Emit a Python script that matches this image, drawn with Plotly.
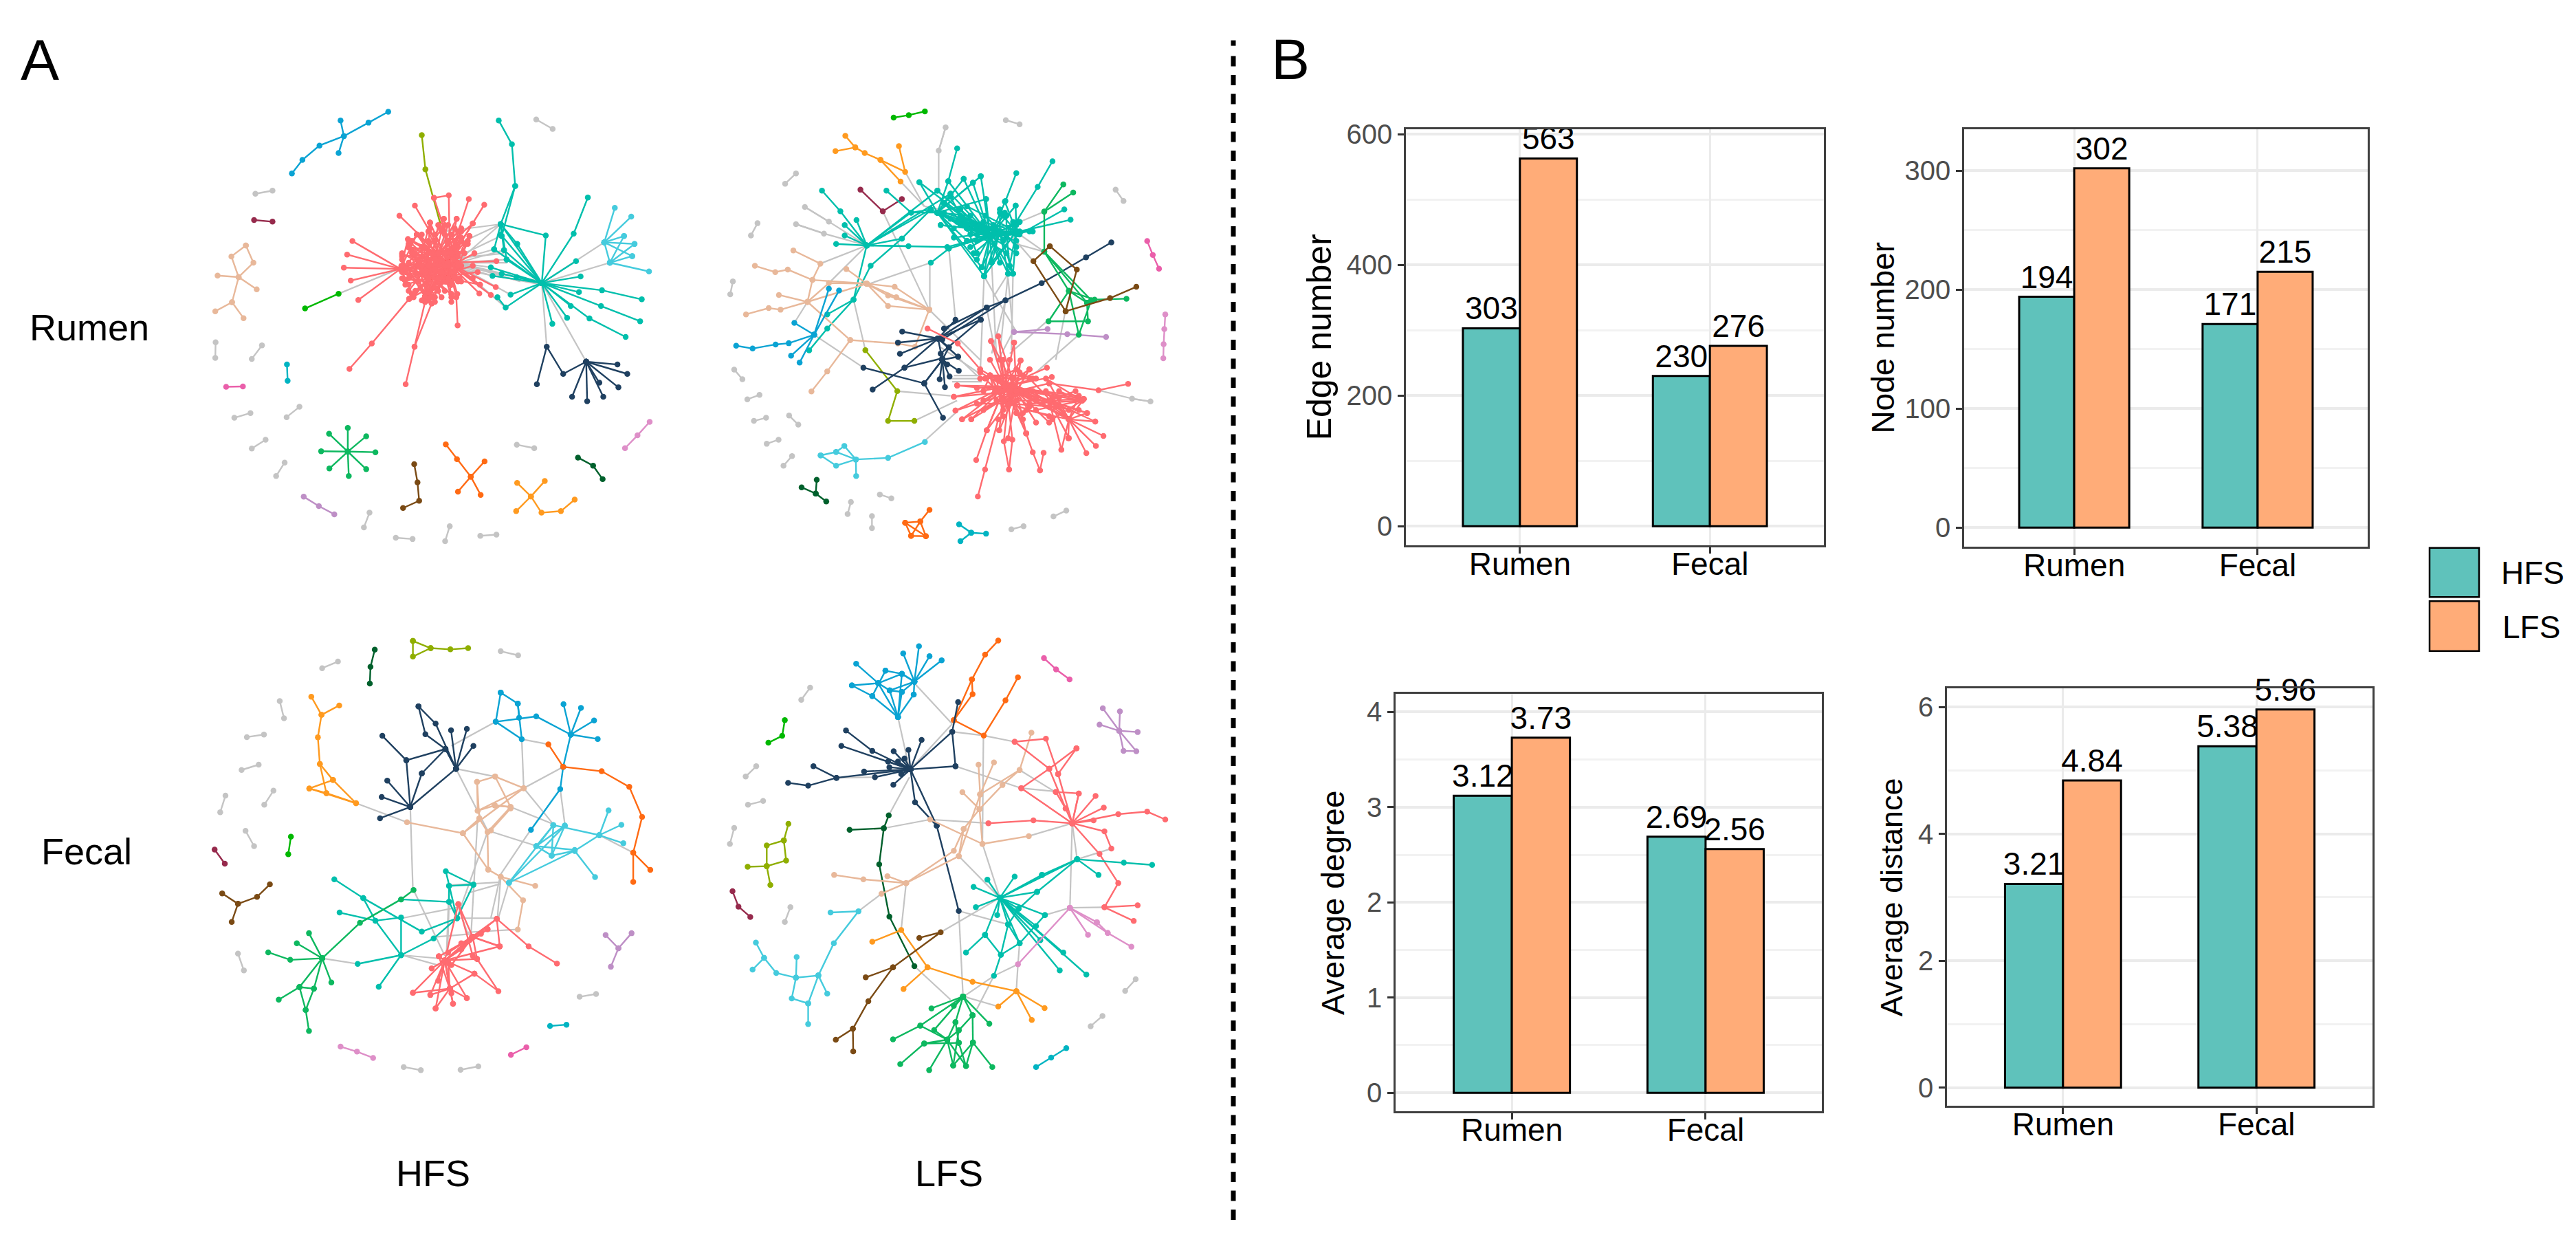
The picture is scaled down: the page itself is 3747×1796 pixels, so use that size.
import plotly.graph_objects as go

W, H = 3747, 1796

# ---------- bar chart values ----------
CATEGORIES = ["Rumen", "Fecal"]
GROUPS = ["HFS", "LFS"]
EDGE_HFS = [303, 230]
EDGE_LFS = [563, 276]
NODE_HFS = [194, 171]
NODE_LFS = [302, 215]
DEGREE_HFS = [3.12, 2.69]
DEGREE_LFS = [3.73, 2.56]
DISTANCE_HFS = [3.21, 5.38]
DISTANCE_LFS = [4.84, 5.96]
EDGE_TICKS = [0, 200, 400, 600]
NODE_TICKS = [0, 100, 200, 300]
DEGREE_TICKS = [0, 1, 2, 3, 4]
DISTANCE_TICKS = [0, 2, 4, 6]

COL = dict(red="#FF6B70", teal="#00BFAC", navy="#1F4060", peach="#E8B89A", blue="#0AA3D3", cyan="#45CBDD",
           emerald="#0DB85F", orange="#FF6A13", amber="#FF9A1F", lime="#8FAE00", brown="#7A4A14", dkgreen="#00602C",
           maroon="#962A4C", pink="#EA5FAA", mauve="#BE8FC6", lpink="#DE8FC8", gray="#C4C4C4", bgreen="#00B800",
           tblue="#00B4C2")

# ---------- network layouts: node positions (grid 0-1568 per panel) ----------
RH_LINKS = [
    [(507,689),(690,610)], [(1125,655),(1140,858)], [(1125,655),(1260,906)], [(1125,655),(1315,525)], [(1125,655),(1332,590)],
    [(870,585),(1000,467)], [(870,570),(1000,505)], [(870,580),(980,547)], [(870,590),(1010,550)], [(870,590),(1018,580)],
    [(870,590),(970,605)], [(870,600),(975,632)], [(870,595),(1003,625)], [(870,590),(1125,655)], [(875,600),(1125,650)],
    [(870,610),(1125,660)], [(880,610),(1015,733)], [(830,490),(1000,467)], [(870,530),(1000,467)], [(870,600),(1030,692)],
    [(870,595),(1048,636)], [(875,575),(1010,560)], [(875,590),(1020,590)], [(880,595),(1060,650)], [(830,530),(822,487)],
]
RH_CHAINS = {
    "blue": [[(365,305),(397,262),(449,216),(523,186),(598,143),(658,108)], [(513,136),(523,186),(507,240)]],
    "gray": [[(1108,133),(1158,163)], [(254,370),(306,360)], [(133,844),(132,894)], [(274,854),(243,897)], [(239,1070),(190,1085)],
             [(388,1050),(349,1083)], [(285,1155),(243,1183)], [(343,1228),(317,1271)], [(601,1388),(584,1435)], [(681,1468),(732,1472)],
             [(845,1431),(831,1479)], [(938,1462),(987,1458)], [(1049,1171),(1102,1182)]],
    "maroon": [[(250,454),(306,459)]],
    "peach": [[(225,535),(181,570),(203,636),(183,716),(132,745)], [(225,535),(248,590),(203,636)], [(139,631),(203,636),(258,675)], [(183,716),(218,767)]],
    "tblue": [[(350,915),(352,967)]],
    "pink": [[(165,986),(216,985)]],
    "lime": [[(760,183),(771,292),(822,487)]],
    "bgreen": [[(405,736),(507,689)]],
    "brown": [[(737,1233),(747,1291),(752,1350),(703,1373)]],
    "orange": [[(833,1170),(867,1217),(909,1273),(951,1224)], [(870,1321),(909,1273),(939,1331)]],
    "amber": [[(1050,1293),(1092,1336),(1134,1287)], [(1047,1383),(1092,1336),(1124,1388),(1183,1383),(1225,1346)]],
    "mauve": [[(401,1337),(447,1367),(494,1393)]],
    "lpink": [[(1453,1098),(1416,1141),(1378,1182)]],
    "dkgreen": [[(1235,1212),(1281,1238),(1310,1281)]],
    "navy": [[(1110,978),(1140,858),(1190,945),(1260,906)]],
    "teal": [[(994,136),(1034,212),(1044,345),(1000,467),(1137,503),(1125,655)], [(1044,345),(1003,505)], [(1125,655),(1222,497),(1265,382)],
             [(1125,655),(1308,678),(1429,707)], [(1125,655),(1305,728),(1424,777)], [(1125,655),(1270,768),(1380,827)], [(1125,655),(1015,733),(990,700)]],
    "red": [[(797,383),(842,375),(845,560)], [(797,383),(840,520)], [(567,709),(695,610)], [(540,929),(608,848),(722,705),(840,590)], [(711,978),(738,858),(770,715),(840,590)],
            [(738,858),(790,720)], [(869,790),(865,700),(840,590)]],
}
RH_FANS = {
    "emerald": [((535,1193), [(535,1117),(591,1144),(619,1195),(591,1249),(538,1271),(479,1247),(454,1192),(478,1136)])],
    "navy": [((1260,906), [(1355,915),(1385,945),(1300,973),(1358,988),(1312,1018),(1263,1032),(1217,1018)])],
    "cyan": [((1315,525), [(1347,415),(1397,443),(1375,505),(1407,530),(1400,569),(1332,590)]), ((1332,590), [(1375,505),(1407,530),(1400,569),(1451,618)])],
    "teal": [((1125,655), [(1229,585),(1243,634),(1238,684),(1213,728),(1202,766),(1157,785),(1030,692),(1048,636),(1003,625),(975,632),(970,605),
                           (1050,530),(1018,580),(1010,550),(1000,500),(1000,467),(980,547)]),
             ((1000,467), [(1050,530),(1018,580),(1010,550),(980,547),(1003,505)])],
    "red": [((840,590), [(903,387),(950,405),(739,408),(692,440),(785,462),(827,450),(866,450),(915,465),(878,490),(745,500),(718,515),(905,505),(700,565),(698,600),
                         (708,645),(722,705),(770,715),(790,720),(850,715),(868,690),(935,688),(970,693),(985,668),(987,585),(937,660),(915,640),(760,540),(780,600),(730,560),(720,640),(740,680),(810,680),(800,500),(860,520)]),
            ((695,610), [(549,521),(533,564),(523,606),(544,647),(830,560),(840,600),(810,640),(780,690),(770,540),(745,500),(718,515),(720,660),(850,640),(800,610),(860,580),(790,560),(750,650),(730,690),(800,670)]),
            ((770,700), [(870,560),(840,530),(800,520),(720,540),(700,580),(860,620),(830,600),(880,510),(860,480),(780,560),(740,620),(900,530),(820,490),(785,462)]),
            ((720,540), [(870,600),(860,640),(830,680),(850,560),(800,700),(870,570),(790,640),(760,610),(820,620),(745,500)]),
            ((850,660), [(720,590),(780,520),(830,500),(870,490),(905,505),(760,600),(740,560),(710,620),(800,580),(700,640)]),
            ((780,640), [(870,540),(850,500),(810,470),(760,500),(720,530),(700,600),(710,660),(735,700),(790,700),(850,690),(875,640),(870,590),(915,600),(930,620),(920,560)]),
            ((810,560), [(700,620),(720,680),(760,710),(800,715),(850,700),(880,650),(890,560),(900,520),(880,480),(840,470),(780,490),(730,520),(700,570),(915,465),(866,450)]),
            ((750,600), [(880,600),(870,650),(850,690),(820,700),(780,710),(860,540),(880,520),(820,480),(785,462),(827,450)]),
            ((840,640), [(700,560),(710,610),(720,520),(745,500),(785,480),(830,470),(880,490),(890,530),(770,715),(722,705),(708,645),(937,660)])],
}

RL_LINKS = [
    [(662,300),(720,410)], [(648,331),(720,410)], [(594,426),(735,740)], [(325,782),(365,715)], [(385,820),(535,925)], [(545,535),(404,593)], [(545,535),(430,655)],
    [(357,412),(430,459),(545,535)], [(330,467),(415,497),(545,535)], [(505,708),(541,869)], [(638,1000),(800,1015)], [(690,1095),(820,1030)], [(890,950),(902,633)],
    [(940,900),(925,590)], [(950,880),(975,625)], [(985,870),(990,625)], [(1060,940),(1190,820)], [(880,950),(762,832)], [(890,945),(770,860)], [(720,1160),(820,1065)],
    [(800,960),(890,960)], [(810,950),(890,950)], [(805,970),(895,970)], [(990,810),(950,890)], [(1150,740),(1120,900)], [(1095,775),(980,880)], [(1085,427),(1010,460)],
    [(1085,555),(1010,500)], [(1052,585),(990,510)], [(785,158),(764,232),(764,360)], [(1250,997),(1352,1024),(1408,1033)], [(735,740),(890,900)], [(737,590),(737,740)],
    [(795,545),(815,772)], [(545,660),(740,590)], [(910,735),(940,900)], [(967,710),(925,880)], [(1000,530),(1085,555)], [(720,410),(770,420)], [(975,625),(930,700)], [(902,633),(960,740)],
    [(960,740),(1000,810)], [(975,640),(990,810)],
]
RL_CHAINS = {
    "bgreen": [[(627,127),(673,119),(722,107)]],
    "gray": [[(968,135),(1010,148)], [(330,305),(297,338)], [(1302,357),(1326,393)], [(213,464),(193,503)], [(138,650),(130,691)], [(142,931),(167,962)], [(219,1012),(182,1026)],
             [(239,1085),(202,1095)], [(309,1078),(337,1107)], [(277,1155),(241,1168)], [(318,1207),(292,1238)], [(585,1330),(620,1342)], [(497,1354),(487,1392)], [(561,1399),(561,1437)],
             [(1152,1381),(1113,1400)], [(1022,1431),(985,1441)], [(1352,1024),(1408,1033)], [(785,158),(764,232)], [(357,412),(430,459)], [(330,467),(415,497)]],
    "amber": [[(480,185),(510,222),(539,240),(587,262),(662,300),(643,218)], [(450,234),(510,222)], [(587,262),(648,331)]],
    "maroon": [[(526,357),(594,426),(652,387)]],
    "teal": [[(409,360),(465,426),(545,535)], [(370,870),(425,800),(505,708),(557,600),(652,513),(740,420)], [(545,535),(505,708),(425,755)], [(605,360),(680,430),(760,430)], [(1000,304),(967,393),(920,505)],
             [(1110,266),(1065,348),(970,510)], [(545,535),(790,540),(920,505)], [(820,225),(793,330),(760,430)], [(545,535),(680,430),(740,420)], [(740,590),(795,545),(920,505)], [(1165,453),(1010,490)], [(1146,420),(1010,500)]],
    "peach": [[(322,551),(404,593),(380,645),(365,715)], [(205,600),(267,620),(305,612),(380,645),(545,657)], [(365,715),(495,837),(640,848),(692,858),(735,740)], [(495,837),(425,937),(377,1001)],
              [(178,755),(247,735),(283,740),(365,715)], [(278,693),(365,715)], [(365,715),(430,655),(545,657)], [(365,715),(545,657)], [(483,610),(545,657)], [(735,740),(630,667),(545,657),(610,728),(735,740)], [(545,657),(610,695),(735,740)], [(545,657),(635,700),(735,740)]],
    "blue": [[(148,855),(198,864),(268,851),(308,847),(385,820)]],
    "lime": [[(541,869),(638,1000),(610,1095),(690,1095)]],
    "navy": [[(1289,525),(1212,573),(1077,655),(967,710),(910,733),(762,832),(660,925),(563,995)], [(535,925),(720,975),(777,1085)], [(720,975),(775,900),(762,832)], [(660,925),(775,895)], [(967,710),(775,835)], [(910,733),(780,800)], [(892,772),(770,880)]],
    "red": [[(730,800),(822,848),(890,930)], [(1340,977),(1250,997),(1100,975)], [(883,1336),(905,1250),(945,1090)], [(878,1220),(910,1125),(960,1000)], [(978,1250),(962,1160),(975,1030)], [(978,1250),(988,1155),(975,1030)],
            [(1072,1253),(1050,1195),(1030,1135),(980,1000)], [(1083,1197),(1072,1253)]],
    "cyan": [[(405,1205),(452,1194),(512,1218),(477,1175),(452,1194)], [(405,1205),(452,1238),(512,1218),(610,1213),(722,1162)], [(512,1218),(513,1271)]],
    "dkgreen": [[(393,1283),(390,1327),(347,1307)], [(390,1327),(422,1352)]],
    "orange": [[(736,1379),(708,1416),(662,1420),(680,1462),(725,1463),(708,1416),(680,1462)], [(662,1420),(725,1463)]],
    "tblue": [[(826,1425),(863,1452),(908,1455)], [(863,1452),(830,1479)]],
    "pink": [[(1398,521),(1415,565),(1434,609)]],
    "lpink": [[(1453,755),(1450,802),(1448,850),(1447,895)]],
    "mauve": [[(993,811),(1095,802)], [(993,811),(1155,818),(1273,827)]],
    "emerald": [[(1143,340),(1085,427),(1085,555),(1160,680),(1215,718),(1218,777),(1098,777),(1160,680),(1190,820),(1228,710)], [(1173,366),(1085,427)], [(1160,680),(1238,708),(1335,705)], [(1085,555),(1215,718)], [(1085,555),(1228,710)]],
    "brown": [[(1365,667),(1285,703),(1150,745),(1052,585),(1102,537),(1184,612),(1150,745)]],
}
RL_FANS = {
    "teal": [((545,535), [(478,470),(514,454),(478,503),(452,530),(672,537),(740,420),(800,370),(760,360),(652,513)]),
             ((920,505), [(705,333),(793,330),(840,322),(868,335),(892,314),(908,387),(998,408),(1010,460),(902,633),(975,625),(990,625),(925,590),(895,605),(760,430),(800,370),(760,360),(830,420),(850,470),(1000,500),(1040,490),(960,440),(780,400),(860,540),(880,580),(950,590),(1000,560),(965,430),(835,450)]),
             ((760,430), [(705,333),(840,322),(868,335),(892,314),(908,387),(850,520),(880,500),(830,470),(800,370),(902,633),(860,440),(810,480),(895,605)]),
             ((1000,490), [(850,410),(900,460),(880,520),(975,625),(990,625),(925,590),(950,430),(998,408),(965,395),(902,633)]),
             ((950,490), [(830,440),(800,450),(770,470),(810,510),(850,520),(870,560),(895,605),(902,633),(925,590),(975,625),(990,625),(1010,460),(1000,500),(1050,490),(950,420),(905,440),(780,430)]),
             ((850,480), [(740,420),(770,470),(800,380),(780,400),(900,460),(1000,470),(960,520),(970,560),(1000,520),(880,560)]),
             ((970,500), [(760,430),(820,460),(860,500),(905,510),(930,470),(970,440),(990,460),(1000,540),(980,600)])],
    "blue": [((385,820), [(325,782),(315,887),(341,909),(430,673),(461,679)])],
    "navy": [((762,832), [(653,810),(640,845),(646,881),(815,772),(892,772),(795,860),(823,890)]), ((775,900), [(767,962),(783,987),(797,953),(825,935),(790,915),(720,975),(795,860),(823,890)])],
    "red": [((965,985), [(863,1090),(835,1090),(815,1062),(810,1018),(820,982),(923,840),(945,825),(993,845),(1013,902),(1040,930),(1093,925),(1108,955),(948,1125),(910,1125),(1160,1090),(1205,1025),(1190,1015),(1215,1070),
                         (1100,1050),(1050,1000),(890,940),(920,900),(1040,1050),(900,1030),(880,990),(1000,1070),(960,1060),(1060,960),(1130,1020),(1020,1090),(1030,1135),(950,900),(980,900)]),
            ((1160,1090), [(1137,1187),(1158,1150),(1213,1198),(1242,1175),(1265,1143),(1240,1097),(1205,1025),(1190,1015),(1215,1070),(1100,975),(1050,1000),(1030,1060),(1080,1040),(1110,1020),(1130,1050),(1040,960),(1000,1000),(1090,1000)]),
            ((920,950), [(1000,1010),(1040,1000),(960,1030),(990,960),(940,1030),(1020,950),(975,1050),(1060,1030),(900,1000),(890,960)]),
            ((1200,1030), [(1030,1000),(1060,1060),(1110,1090),(1090,960),(1130,1000),(1040,1040)]),
            ((980,1040), [(905,960),(960,900),(1010,940),(1040,930),(935,1000),(880,1040),(1100,1080),(1120,1050)]),
            ((1000,1000), [(815,1062),(810,1018),(820,982),(863,1090),(835,1090),(910,1125),(948,1125),(975,1150),(1030,1135),(1100,1100),(1160,1060),(1100,975),(1040,930),(1013,902),(993,845),(945,825),(923,840),(890,930),(900,1060),(1060,1100)]),
            ((940,960), [(1050,960),(1060,1020),(1020,1070),(960,1080),(1100,1030),(1000,930),(1030,1010)]),
            ((1100,1030), [(1205,1025),(1240,1097),(1215,1070),(1160,1150),(1137,1187),(1000,1030),(1180,1000),(1190,1060)])],
}

FH_LINKS = [
    [(1064,369),(1145,385)], [(1064,369),(1070,525)], [(1070,525),(1190,457)], [(850,390),(985,313)], [(864,463),(983,488)], [(864,463),(960,660)], [(725,585),(733,850)],
    [(560,573),(715,634)], [(1181,528),(1195,640)], [(1070,525),(1160,640)], [(1030,585),(1160,640)], [(960,660),(1110,710)], [(1300,675),(1403,731)], [(1090,660),(1000,800),(970,940)],
    [(960,665),(870,930)], [(930,620),(910,990)], [(1000,810),(990,940)], [(1025,827),(990,950)], [(1000,825),(840,835)], [(735,850),(830,1060)], [(870,940),(990,940)],
    [(800,1000),(910,990)], [(700,940),(870,905)], [(1050,976),(900,985)], [(700,1058),(830,1070)], [(700,1058),(810,1090)], [(565,1086),(457,1068)], [(843,888),(838,1060)],
    [(843,838),(835,1060)], [(1000,830),(900,860)], [(870,900),(900,990)],
]
FH_CHAINS = {
    "lime": [[(733,55),(787,78),(733,105),(733,55)], [(787,78),(847,82),(901,78)]],
    "dkgreen": [[(617,83),(604,138),(602,191)]],
    "gray": [[(505,121),(457,142)], [(1000,88),(1053,101)], [(328,247),(341,302)], [(280,354),(228,362)], [(264,450),(212,467)], [(163,549),(147,602)], [(309,533),(281,578)], [(224,661),(250,710)],
             [(201,1053),(219,1107)], [(1290,1182),(1240,1191)], [(705,1415),(757,1425)], [(932,1413),(878,1424)]],
    "amber": [[(424,233),(455,291),(509,261)], [(455,291),(444,363),(450,448),(490,499),(560,573),(470,541),(418,526),(490,499)], [(450,448),(470,541)], [(418,526),(560,573)]],
    "bgreen": [[(362,680),(354,736)]],
    "maroon": [[(130,721),(161,766)]],
    "brown": [[(153,861),(201,894),(259,872),(298,832)], [(201,894),(182,952)]],
    "mauve": [[(1319,994),(1358,1036),(1398,988)], [(1358,1036),(1335,1095)]],
    "tblue": [[(1150,1284),(1200,1280)]],
    "pink": [[(1031,1376),(1078,1352)]],
    "lpink": [[(513,1350),(563,1366),(612,1386)]],
    "navy": [[(750,264),(802,319),(864,463)], [(750,264),(771,353),(832,400),(864,463)], [(640,358),(713,436),(832,400)], [(760,478),(832,400)], [(713,436),(725,585)]],
    "blue": [[(1000,220),(1052,255),(1064,369),(985,313),(1000,220)], [(985,313),(1108,296),(1213,354),(1190,457)], [(1190,457),(1181,528),(1092,658)], [(1052,255),(1056,300)]],
    "orange": [[(1145,385),(1190,457),(1307,471),(1391,521),(1430,617),(1403,731),(1455,786)], [(1403,731),(1403,824)]],
    "peach": [[(715,634),(885,669),(935,622),(928,505),(983,488),(1070,525),(885,669)], [(928,505),(930,597),(982,580),(1030,585),(960,665),(935,622)], [(983,488),(1030,585),(982,580)], [(930,597),(1070,525)],
              [(885,669),(962,785),(1000,808),(1105,837)], [(960,665),(962,785)], [(1000,808),(1068,883),(1052,976)], [(1030,590),(970,660)]],
    "cyan": [[(1328,596),(1300,675),(1367,642)], [(1300,675),(1373,701)], [(1300,675),(1225,725),(1287,809)], [(1225,725),(1025,827)], [(1160,643),(1108,710),(1155,740),(1225,725)], [(1195,645),(1155,740)],
             [(1160,643),(1300,675)], [(1195,645),(1108,710),(1225,722)], [(1160,643),(1025,827)], [(1160,643),(1155,740)], [(1195,645),(1025,827)]],
    "teal": [[(494,816),(582,876),(619,948),(697,1058),(629,1159)], [(582,876),(760,983),(867,940)], [(510,922),(619,948),(697,938),(697,1058)], [(697,1058),(796,1005),(867,940),(833,790),(917,833),(867,940)],
             [(843,837),(917,833)], [(697,880),(843,888),(867,940)], [(843,837),(843,888)], [(565,1086),(697,1058)]],
    "emerald": [[(293,1049),(360,1073),(457,1068)], [(457,1068),(485,1145)], [(457,1068),(432,1165),(388,1160)], [(457,1068),(572,955),(697,880),(735,850)], [(457,1068),(388,1160),(325,1200)], [(388,1160),(407,1233),(417,1300)], [(432,1165),(407,1233)], [(417,988),(457,1068)], [(380,1020),(457,1068)]],
    "red": [[(830,1075),(912,1000),(988,942),(1085,1030),(1171,1085)], [(920,1117),(993,1173),(928,1070)], [(920,1117),(845,1165)], [(988,942),(997,1030),(915,1000),(871,895),(915,1060)]],
}
FH_FANS = {
    "navy": [((725,585), [(655,501),(638,553),(633,621),(760,478),(864,463)]), ((864,463), [(849,340),(897,336),(917,390),(832,400)])],
    "blue": [((1213,354), [(1191,257),(1244,269),(1284,309),(1295,368)])],
    "red": [((830,1075), [(733,1178),(786,1185),(802,1228),(855,1213),(897,1195),(845,1165),(790,1100),(812,1062),(920,1117),(928,1070),(915,1000),(960,975),(988,942),(997,1030),(871,895),(905,1010),(940,990),(880,1040),(850,1180),(810,1140)]),
            ((845,1165), [(812,1062),(802,1228),(897,1195),(855,1213),(786,1185),(733,1178),(840,1080)]),
            ((915,1000), [(812,1062),(840,1050),(880,1020),(997,1030),(960,975),(928,1070),(850,1090)])],
}

FL_LINKS = [
    [(690,190),(805,320)], [(640,298),(675,465)], [(1038,678),(1170,637)], [(897,703),(900,357)], [(900,357),(995,377)], [(897,703),(950,875)], [(825,742),(945,870)],
    [(597,653),(738,625),(915,637)], [(665,828),(650,975)], [(590,862),(520,918)], [(675,490),(612,612)], [(815,455),(1015,525),(1115,535)], [(1010,467),(1115,535)], [(1185,752),(1289,718)],
    [(1170,637),(1185,752)], [(1170,637),(1163,907)], [(1087,930),(1163,907),(1268,905)], [(825,917),(975,960)], [(825,917),(838,1190)], [(1005,1087),(1010,1020)], [(1005,1087),(932,1124),(840,1190)],
    [(1005,1087),(1000,1172)], [(690,1093),(800,1200)], [(840,1190),(945,1222)], [(770,985),(950,875)], [(805,345),(901,357)], [(678,465),(805,320)], [(880,1230),(932,1124)], [(453,492),(560,490)],
]
FL_CHAINS = {
    "blue": [[(513,128),(580,190),(640,298)], [(500,197),(562,231),(640,298)], [(602,150),(652,160),(690,185)], [(500,197),(580,190),(652,160)], [(615,213),(640,298)], [(652,218),(640,298)], [(688,226),(640,298)], [(580,190),(615,213),(652,218),(690,185)], [(562,231),(602,150)], [(652,160),(640,298)]],
    "orange": [[(945,54),(905,99),(865,178),(810,308),(901,357),(967,245),(1005,171)], [(865,178),(867,225),(810,308)]],
    "pink": [[(1084,110),(1121,146),(1162,178)]],
    "mauve": [[(1263,270),(1313,342),(1365,407),(1326,406),(1313,342)], [(1253,322),(1313,342),(1369,346)], [(1315,280),(1313,342)]],
    "bgreen": [[(296,308),(288,358),(246,380)]],
    "gray": [[(373,204),(346,243)], [(209,455),(177,488)], [(230,566),(184,578)], [(142,652),(129,703)], [(313,905),(296,952)], [(1363,1135),(1331,1172)], [(1262,1252),(1226,1285)]],
    "lime": [[(307,639),(293,692),(241,708),(241,774),(300,756),(293,692)], [(183,776),(241,774),(252,834)]],
    "maroon": [[(137,854),(155,903),(191,936)]],
    "tblue": [[(1152,1355),(1106,1385),(1060,1415)]],
    "navy": [[(306,508),(367,517),(453,492),(678,465)], [(383,455),(453,492)], [(805,345),(815,455)], [(678,465),(805,345),(823,250)], [(678,465),(692,570),(758,645),(825,917)], [(678,465),(758,645)], [(482,341),(562,406),(678,465)]],
    "dkgreen": [[(612,612),(597,653),(493,658)], [(597,653),(583,768),(614,935),(690,1093)]],
    "peach": [[(1046,348),(1010,467),(958,515),(888,592),(840,655),(810,725),(665,828),(535,816),(446,802)], [(885,450),(890,545),(888,592),(897,703),(1038,678)], [(932,443),(890,545)], [(836,538),(888,592)],
              [(1010,467),(890,545),(825,742),(665,828),(590,862)], [(608,806),(665,828)], [(738,625),(897,703)], [(840,655),(825,742)]],
    "red": [[(1015,525),(1170,637)], [(1120,537),(1150,590),(1170,637)], [(1120,537),(1190,542),(1170,637)], [(1170,637),(1310,608),(1398,600),(1453,625)], [(1170,637),(1052,628),(915,637)], [(1170,637),(1268,663),(1289,718)],
            [(1170,637),(1253,735),(1310,828),(1268,905),(1369,899)], [(1268,905),(1357,949)], [(995,377),(1090,367),(1127,480)], [(995,377),(1100,463),(1015,525)], [(1100,463),(1183,398)], [(1127,480),(1183,398)],
            [(1100,463),(1150,590)], [(1127,480),(1170,637)]],
    "teal": [[(1185,752),(1250,802)], [(1185,752),(1327,763),(1413,770)], [(1063,856),(1007,910),(975,960),(953,1057),(1010,1020),(975,960)], [(905,993),(953,1057),(932,1124)], [(847,1050),(905,993)], [(1087,930),(1010,1020)], [(1078,802),(1185,752)], [(1063,856),(1185,752)]],
    "lpink": [[(1163,907),(1218,993)], [(1245,953),(1278,987),(1350,1031)], [(1163,907),(1245,953)], [(1163,907),(1005,1087)], [(1163,907),(1278,987)]],
    "cyan": [[(435,922),(520,918),(445,1020),(398,1123),(330,1130),(270,1115),(233,1067),(208,1018)], [(233,1067),(198,1104)], [(330,1130),(332,1064)], [(330,1130),(317,1196),(367,1212),(398,1123)], [(367,1212),(367,1278)], [(398,1123),(425,1181)]],
    "amber": [[(562,1015),(650,978),(730,1097),(867,1143),(1000,1173),(1086,1227)], [(730,1097),(657,1166)], [(1000,1173),(945,1222)], [(1000,1173),(1047,1265)]],
    "brown": [[(705,1003),(770,985),(625,1097),(542,1129)], [(625,1097),(550,1205),(503,1293),(451,1328)], [(503,1293),(504,1365)]],
    "emerald": [[(708,1283),(790,1328)], [(625,1327),(708,1283),(838,1190)], [(790,1328),(735,1425)], [(790,1328),(808,1410),(868,1337),(847,1412),(790,1328)], [(868,1337),(927,1415)], [(825,1338),(847,1412)], [(867,1250),(868,1337)],
                [(838,1190),(815,1272),(825,1338)], [(838,1190),(750,1297),(790,1328)], [(867,1250),(825,1298),(808,1410)], [(720,1340),(825,1338)], [(790,1328),(720,1340),(647,1406)], [(815,1272),(790,1328)], [(825,1298),(790,1328)]],
}
FL_FANS = {
    "blue": [((690,185), [(656,95),(704,72),(736,104),(773,117),(688,226),(652,160),(615,213)])],
    "navy": [((678,465), [(468,390),(627,407),(672,403),(712,371),(614,458),(570,490),(537,472),(626,514),(815,455),(640,440),(650,480),(660,430),(610,440)])],
    "red": [((1170,637), [(1241,550),(1266,587),(1235,628),(1190,542)])],
    "teal": [((950,875), [(912,817),(870,840),(995,807),(1078,802),(1185,752),(1063,856),(877,905),(942,930),(975,960),(1007,910),(1087,930),(1060,965),(1010,1020),(1073,1010),(1143,1050),(1213,1120),(1132,1107),(905,993)])],
    "emerald": [((838,1190), [(742,1228),(810,1220),(867,1250),(918,1277)])],
}

PANELS = [
    ("Rumen HFS", RH_LINKS, RH_CHAINS, RH_FANS, (250, 100, 750, 720)),
    ("Rumen LFS", RL_LINKS, RL_CHAINS, RL_FANS, (1000, 100, 750, 720)),
    ("Fecal HFS", FH_LINKS, FH_CHAINS, FH_FANS, (250, 900, 750, 720)),
    ("Fecal LFS", FL_LINKS, FL_CHAINS, FL_FANS, (1000, 900, 750, 720)),
]

BARS = [
    ("Edge number", EDGE_HFS, EDGE_LFS, EDGE_TICKS, (2045, 175, 2653, 785), (-29, 608), 50, 6),
    ("Node number", NODE_HFS, NODE_LFS, NODE_TICKS, (2857, 175, 3444, 787), (-16, 335), 46, 1),
    ("Average degree", DEGREE_HFS, DEGREE_LFS, DEGREE_TICKS, (2030, 1003, 2650, 1615), (-0.197, 4.19), 46, 18),
    ("Average distance", DISTANCE_HFS, DISTANCE_LFS, DISTANCE_TICKS, (2832, 995, 3451, 1607), (-0.29, 6.29), 45, 9),
]

FONT = "Liberation Sans"
TEAL_BAR, ORANGE_BAR = "#5FC2BB", "#FFAC78"


def xdom(a, b):
    return [a / W, b / W]


def ydom(top, bottom):
    return [1 - bottom / H, 1 - top / H]


fig = go.Figure()
layout = {}
axis_no = 0


def flatten(polylines):
    xs, ys = [], []
    for line in polylines:
        for px, py in line:
            xs.append(px)
            ys.append(py)
        xs.append(None)
        ys.append(None)
    return xs, ys


for name, links, chains, fans, (cx, cy, cw, ch) in PANELS:
    axis_no += 1
    sx = "" if axis_no == 1 else str(axis_no)
    layout["xaxis" + sx] = dict(domain=xdom(cx, cx + cw), range=[0, 1568], visible=False, fixedrange=True)
    layout["yaxis" + sx] = dict(domain=ydom(cy, cy + ch), range=[1568, 0], visible=False, fixedrange=True, anchor="x" + sx)
    lx, ly = flatten(links)
    fig.add_trace(go.Scatter(x=lx, y=ly, xaxis="x" + sx, yaxis="y" + sx, mode="lines", name=name + " links",
                             line=dict(color=COL["gray"], width=2.2), hoverinfo="skip", showlegend=False))
    keys = list(chains) + [k for k in fans if k not in chains]
    for key in keys:
        polylines = list(chains.get(key, []))
        for hub, leaves in fans.get(key, []):
            for leaf in leaves:
                polylines.append([hub, leaf])
        xs, ys = flatten(polylines)
        fig.add_trace(go.Scatter(x=xs, y=ys, xaxis="x" + sx, yaxis="y" + sx, mode="lines+markers", name=name + " " + key,
                                 line=dict(color=COL[key], width=2.4), marker=dict(color=COL[key], size=8.5),
                                 hoverinfo="skip", showlegend=False))

for title, hfs, lfs, ticks, (x0, y0, x1, y1), yr, tsize, standoff in BARS:
    axis_no += 1
    sx = str(axis_no)
    step = (ticks[1] - ticks[0]) / 2
    layout["xaxis" + sx] = dict(domain=xdom(x0, x1), range=[-0.6, 1.6], type="category", categoryorder="array", categoryarray=CATEGORIES,
                                anchor="y" + sx, showline=True, mirror=True, linecolor="#404040", linewidth=2.5,
                                ticks="outside", ticklen=9, tickwidth=2.5, tickcolor="#333333", ticklabelstandoff=-24,
                                tickfont=dict(family=FONT, size=46, color="black"),
                                showgrid=True, gridcolor="#EBEBEB", gridwidth=3, zeroline=False, fixedrange=True)
    layout["yaxis" + sx] = dict(domain=ydom(y0, y1), range=list(yr), anchor="x" + sx, tickmode="array", tickvals=ticks,
                                showline=True, mirror=True, linecolor="#404040", linewidth=2.5,
                                ticks="outside", ticklen=9, tickwidth=3, tickcolor="#333333",
                                tickfont=dict(family=FONT, size=40, color="#4D4D4D"),
                                title=dict(text=title, font=dict(family=FONT, size=tsize, color="black"), standoff=standoff),
                                showgrid=True, gridcolor="#EBEBEB", gridwidth=4, zeroline=False, fixedrange=True,
                                minor=dict(tickmode="linear", tick0=0, dtick=step, showgrid=True, gridcolor="#F2F2F2", gridwidth=2.5, ticks=""))
    for group, vals, color in ((GROUPS[0], hfs, TEAL_BAR), (GROUPS[1], lfs, ORANGE_BAR)):
        fig.add_trace(go.Bar(x=CATEGORIES, y=vals, name=group, xaxis="x" + sx, yaxis="y" + sx, offsetgroup=group,
                             marker=dict(color=color, line=dict(color="black", width=3)),
                             text=[str(v) for v in vals], textposition="outside", cliponaxis=False, constraintext="none",
                             textfont=dict(family=FONT, size=46, color="black"), hoverinfo="skip", showlegend=False))


def note(text, x, y, size, angle=0):
    return dict(text=text, x=x / W, y=1 - y / H, xref="paper", yref="paper", xanchor="center", yanchor="middle", showarrow=False,
                textangle=angle, font=dict(family=FONT, size=size, color="black"))


annotations = [
    note("A", 58, 74, 84), note("B", 1877, 73, 84),
    note("Rumen", 130, 466, 54), note("Fecal", 126, 1234, 54),
    note("HFS", 630, 1705, 54), note("LFS", 1380, 1705, 54),
    note("HFS", 3684, 825, 46), note("LFS", 3682, 905, 46),
]


def rect(x0, y0, x1, y1, color):
    return dict(type="rect", xref="paper", yref="paper", x0=x0 / W, x1=x1 / W, y0=1 - y0 / H, y1=1 - y1 / H,
                fillcolor=color, line=dict(color="black", width=2.5))


def vline(y0, y1, dash):
    return dict(type="line", xref="paper", yref="paper", x0=1794 / W, x1=1794 / W, y0=1 - y0 / H, y1=1 - y1 / H,
                line=dict(color="black", width=7, dash=dash))


shapes = [rect(3534, 789, 3606, 861, TEAL_BAR), rect(3534, 867, 3606, 940, ORANGE_BAR),
          vline(68, 1775, "15px,12.5px"), vline(45, 53, "solid")]

fig.update_layout(width=W, height=H, margin=dict(l=0, r=0, t=0, b=0), paper_bgcolor="white", plot_bgcolor="white",
                  barmode="group", bargap=0.4, bargroupgap=0, showlegend=False, annotations=annotations, shapes=shapes, **layout)

fig.write_html("out.html", config={"displayModeBar": False},
               post_script="document.body.style.margin='0';document.documentElement.style.overflow='hidden';")
